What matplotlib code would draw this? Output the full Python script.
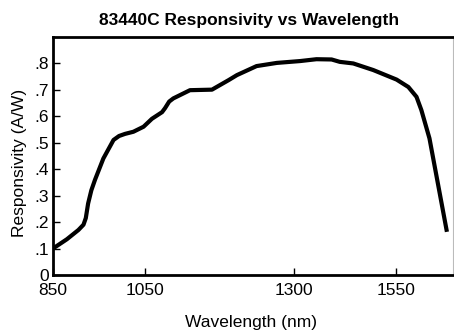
import numpy as np
import matplotlib
matplotlib.use("Agg")
import matplotlib.pyplot as plt

# responsivity curve
wavelength = [850, 880, 905, 916, 921, 926, 933, 941, 959, 981, 993, 1006, 1024,
              1046, 1061, 1078, 1083, 1090, 1097, 1125, 1162, 1190, 1204, 1237,
              1271, 1315, 1355, 1392, 1412, 1445, 1494, 1551, 1580, 1600, 1612,
              1632, 1675]
responsivity = [0.10, 0.135, 0.17, 0.19, 0.215, 0.27, 0.32, 0.36, 0.44, 0.51,
                0.525, 0.533, 0.541, 0.56, 0.59, 0.615, 0.63, 0.655, 0.667,
                0.698, 0.70, 0.736, 0.755, 0.789, 0.801, 0.808, 0.815, 0.814,
                0.805, 0.799, 0.774, 0.738, 0.71, 0.673, 0.623, 0.516, 0.163]

x_ticks = [850, 1050, 1300, 1550]
y_ticks = [0, 0.1, 0.2, 0.3, 0.4, 0.5, 0.6, 0.7, 0.8]
y_tick_labels = ['0', '.1', '.2', '.3', '.4', '.5', '.6', '.7', '.8']

# the original x axis is not evenly spaced: piecewise linear scale
scale_wave = [850, 1050, 1300, 1550, 1690]
scale_frac = [0.0, 0.231, 0.6025, 0.858, 1.0]


def fwd(x):
    return np.interp(x, scale_wave, scale_frac)


def inv(f):
    return np.interp(f, scale_frac, scale_wave)


plt.rcParams['font.family'] = ['Liberation Sans', 'DejaVu Sans']

fig = plt.figure(figsize=(4.54, 3.34), dpi=100)
ax = fig.add_axes([53 / 454, 59 / 334, 400 / 454, 238.3 / 334])

ax.set_xscale('function', functions=(fwd, inv))
ax.plot(wavelength, responsivity, color='black', linewidth=3,
        solid_joinstyle='round', solid_capstyle='butt')

ax.set_xlim(850, 1690)
ax.set_ylim(0, 0.9)
ax.set_xticks(x_ticks)
ax.set_xticklabels([str(t) for t in x_ticks])
ax.set_yticks(y_ticks)
ax.set_yticklabels(y_tick_labels)
ax.minorticks_off()

ax.tick_params(axis='both', direction='in', length=5, width=1, labelsize=12.5,
               color='black')
ax.tick_params(axis='x', pad=6)
ax.tick_params(axis='y', pad=3)

for side in ['left', 'bottom', 'top']:
    ax.spines[side].set_linewidth(2)
ax.spines['right'].set_linewidth(0.8)
ax.spines['right'].set_color('#bbbbbb')

ax.set_title('83440C Responsivity vs Wavelength', fontsize=12.5, fontweight='bold',
             x=0.491, pad=8.4)
ax.set_xlabel('Wavelength (nm)', fontsize=12.5)
ax.set_ylabel('Responsivity (A/W)', fontsize=12.5)
ax.xaxis.set_label_coords(0.4945, -0.2)
ax.xaxis.label.set_va('center')
ax.yaxis.set_label_coords(-0.0825, 0.47)
ax.yaxis.label.set_va('center')

fig.savefig('out.png', dpi=100)
